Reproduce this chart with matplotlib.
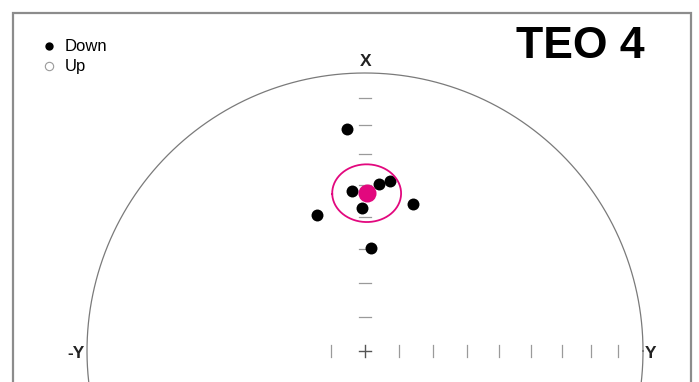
import numpy as np
import matplotlib
matplotlib.use("Agg")
import matplotlib.pyplot as plt
from matplotlib.patches import Rectangle

# ---- data (declination, inclination in degrees) ----
dec_down = [355.3, 355.2, 4.9, 8.4, 358.7, 18.2, 340.4, 3.2]
inc_down = [21.1, 41.8, 39.5, 38.2, 47.2, 43.7, 46.9, 59.7]
mean_dec = 0.6
mean_inc = 42.5
a95 = 9.2
tick_incs = [10, 20, 30, 40, 50, 60, 70, 80]
title = "TEO 4"
legend_labels = ["Down", "Up"]
axis_labels = ["X", "-Y", "Y"]

MAGENTA = "#e2087e"
W, H = 699, 382
CX, CY, R = 365.0, 351.0, 278.0


def eqarea(dec, inc):
    dec = np.radians(np.asarray(dec, float))
    inc = np.radians(np.abs(np.asarray(inc, float)))
    r = np.sqrt(2) * np.sin((np.pi / 2 - inc) / 2)
    return r * np.sin(dec), r * np.cos(dec)


def cone(dec, inc, alpha, n=200):
    d, i, a = np.radians(dec), np.radians(inc), np.radians(alpha)
    # mean direction vector (north, east, down)
    m = np.array([np.cos(i) * np.cos(d), np.cos(i) * np.sin(d), np.sin(i)])
    u = np.cross(m, [0, 0, 1.0]); u /= np.linalg.norm(u)
    v = np.cross(m, u)
    t = np.linspace(0, 2 * np.pi, n)
    pts = (np.cos(a) * m[:, None] + np.sin(a) * (np.cos(t) * u[:, None] + np.sin(t) * v[:, None]))
    decs = np.degrees(np.arctan2(pts[1], pts[0]))
    incs = np.degrees(np.arcsin(np.clip(pts[2], -1, 1)))
    return eqarea(decs, incs)


fig = plt.figure(figsize=(W / 100, H / 100), dpi=100)
fig.patch.set_facecolor("white")
ax = fig.add_axes([0, 0, 1, 1])
ax.set_xlim(-CX / R, (W - CX) / R)
ax.set_ylim(-(H - CY) / R, CY / R)
ax.axis("off")

# frame
fig.patches.append(Rectangle((13 / W, -0.2), (691 - 13) / W, 1.2 - 13 / H,
                             transform=fig.transFigure, fill=False,
                             edgecolor="#8c8c8c", linewidth=1.6))

# primitive circle
t = np.linspace(0, 2 * np.pi, 720)
ax.plot(np.cos(t), np.sin(t), color="#7a7a7a", lw=0.9)

# ticks
tx, ty = eqarea(np.zeros(len(tick_incs)), tick_incs)
hl = 6 / R
for y in ty:
    ax.plot([-hl, hl], [y, y], color="#9a9a9a", lw=0.9)
vl = 6 / R
for x, _ in zip(ty, ty):
    ax.plot([x, x], [-vl, vl], color="#9a9a9a", lw=0.9)
x0 = ty[-1]
ax.plot([-x0, -x0], [-vl, vl], color="#9a9a9a", lw=0.9)
ax.plot([-hl, hl], [0, 0], color="#555555", lw=1.0)
ax.plot([0, 0], [-vl, vl], color="#555555", lw=1.0)

# data points
px, py = eqarea(dec_down, inc_down)
ax.plot(px, py, "o", color="black", markersize=8.6, markeredgewidth=0, zorder=3)

# a95 ellipse and mean
ex, ey = cone(mean_dec, mean_inc, a95)
ax.plot(ex, ey, color=MAGENTA, lw=1.3, zorder=4)
mx, my = eqarea(mean_dec, mean_inc)
ax.plot(mx, my, "o", color=MAGENTA, markersize=13, markeredgewidth=0, zorder=5)


def fx(x):
    return x / W


def fy(y):
    return 1 - y / H


font = "Liberation Sans"
fig.text(fx(366), fy(61), axis_labels[0], ha="center", va="center",
         fontsize=12.5, fontweight="bold", family=font, color="#222222")
fig.text(fx(75.5), fy(354), axis_labels[1], ha="center", va="center",
         fontsize=12.5, fontweight="bold", family=font, color="#222222")
fig.text(fx(651), fy(354), axis_labels[2], ha="center", va="center",
         fontsize=12.5, fontweight="bold", family=font, color="#222222")

fig.text(fx(580), fy(47), title, ha="center", va="center",
         fontsize=32, fontweight="bold", family=font, color="black")

# legend
fig.add_artist(plt.Line2D([fx(49)], [fy(45.5)], marker="o", color="black",
                          markersize=6, markeredgewidth=0, transform=fig.transFigure))
fig.add_artist(plt.Line2D([fx(49)], [fy(65.5)], marker="o", markerfacecolor="white",
                          markeredgecolor="#9a9a9a", markersize=6, markeredgewidth=0.8,
                          transform=fig.transFigure))
fig.text(fx(65), fy(46.5), legend_labels[0], ha="left", va="center",
         fontsize=12, family=font, color="black")
fig.text(fx(65), fy(66), legend_labels[1], ha="left", va="center",
         fontsize=12, family=font, color="black")

fig.savefig("out.png", dpi=100, facecolor="white")
